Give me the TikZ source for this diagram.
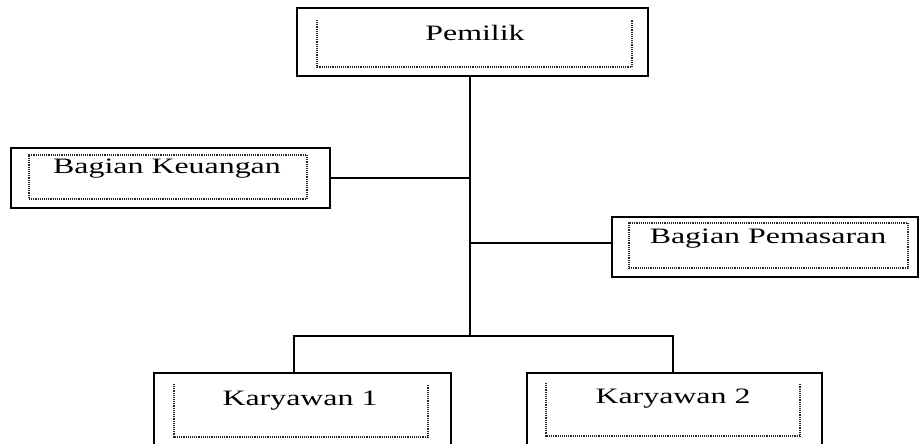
\documentclass[tikz,border=0pt]{standalone}
\usepackage{fontspec}
\setmainfont{Liberation Serif}[FakeStretch=1.45]
\usepackage{tikz}
\usetikzlibrary{positioning,fit}
\tikzset{
  orgc/.style={x=0.75pt, y=-0.75pt, font=\fontsize{16.5}{20}\selectfont},
  o box/.style={draw, line width=1pt, inner sep=0pt},
  o dots/.style={draw=black!85, line width=0.8pt, dash pattern=on 0.7pt off 0.7pt},
  o text/.style={anchor=base, inner sep=0pt},
  o line/.style={line width=0.8pt},
}
\begin{document}
\begin{tikzpicture}[orgc]
\useasboundingbox (0,0) rectangle (919,443);
\clip (0,0) rectangle (919,443);
% ---- Pemilik ----
\node[o box, fit={(297,8) (648,76)}] (pemilik) {};
\draw[o dots] (317,20) |- (632,67) -- (632,20);
\node[o text] (t-pemilik) at (475,40) {Pemilik};
% ---- Bagian Keuangan ----
\node[o box, fit={(11,148) (330,208)}] (keuangan) {};
\node[o dots, inner sep=0pt, fit={(29,155) (307,199)}] (f-keuangan) {};
\node[o text] (t-keuangan) at (167,173) {Bagian Keuangan};
% ---- Bagian Pemasaran ----
\node[o box, fit={(612,217) (918,277)}] (pemasaran) {};
\node[o dots, inner sep=0pt, fit={(629,223) (908,268)}] (f-pemasaran) {};
\node[o text] (t-pemasaran) at (768,243) {Bagian Pemasaran};
% ---- Karyawan ----
\node[o box, fit={(154,373) (451,470)}] (karyawan1) {};
\draw[o dots] (174,384) |- (428,437) -- (428,384);
\node[o text] (t-karyawan1) at (300,405) {Karyawan 1};
\node[o box, fit={(527,373) (822,470)}] (karyawan2) {};
\draw[o dots] (546,383) |- (800,436) -- (800,383);
\node[o text] (t-karyawan2) at (673,403) {Karyawan 2};
% ---- garis ----
\coordinate (fork) at (470,336);
\coordinate (kl) at (294,336);
\coordinate (kr) at (673,336);
\draw[o line] (pemilik.south -| fork) -- (fork);
\draw[o line] (keuangan.east) -- (keuangan.east -| fork);
\draw[o line] ([yshift=3pt]pemasaran.west) -- ([yshift=3pt]pemasaran.west -| fork);
\draw[o line] (kl |- karyawan1.north) -- (kl) -- (kr) -- (kr |- karyawan2.north);
\end{tikzpicture}
\end{document}
